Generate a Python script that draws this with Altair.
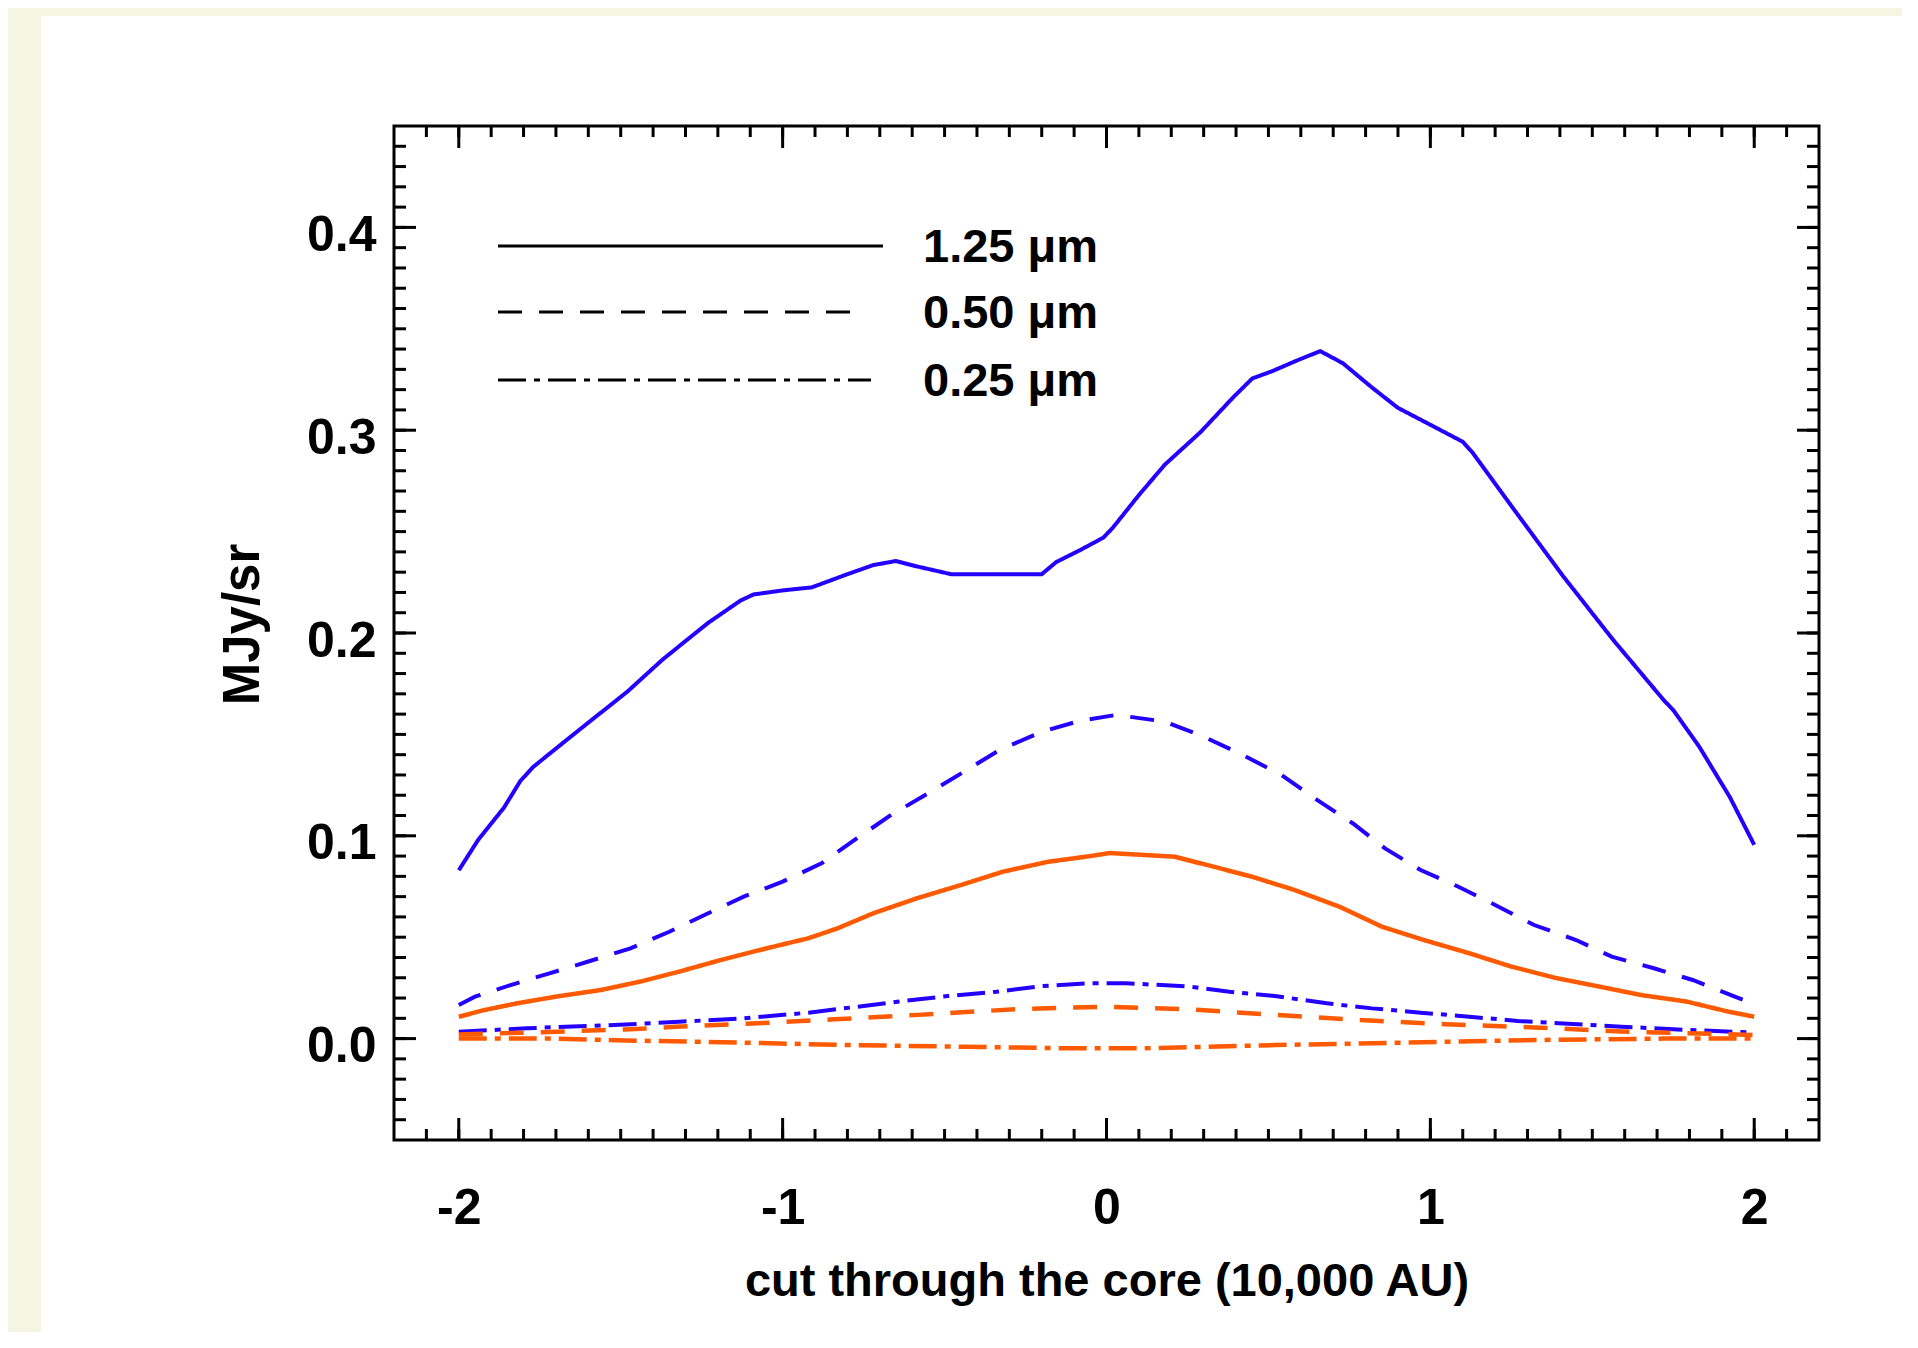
import altair as alt
import pandas as pd

# ---------------- data ----------------
blue_125_x = [-2.0, -1.94, -1.86, -1.81, -1.77, -1.63, -1.48, -1.37, -1.23, -1.13, -1.09, -1.0, -0.91,
              -0.80, -0.72, -0.65, -0.59, -0.48, -0.20, -0.155, -0.08, -0.01, 0.02, 0.10, 0.18, 0.29,
              0.39, 0.45, 0.51, 0.59, 0.66, 0.73, 0.82, 0.90, 0.99, 1.10, 1.13, 1.26, 1.41, 1.565,
              1.72, 1.75, 1.83, 1.925, 2.0]
blue_125_y = [0.083, 0.098, 0.114, 0.127, 0.134, 0.152, 0.171, 0.187, 0.205, 0.216, 0.219, 0.221, 0.2225,
              0.229, 0.2335, 0.2355, 0.233, 0.229, 0.229, 0.235, 0.241, 0.247, 0.252, 0.268, 0.283, 0.299,
              0.316, 0.3255, 0.329, 0.3345, 0.339, 0.333, 0.321, 0.311, 0.3035, 0.2943, 0.289, 0.2605,
              0.228, 0.1965, 0.167, 0.162, 0.144, 0.119, 0.0955]

blue_050_x = [-2.0, -1.95, -1.84, -1.72, -1.60, -1.47, -1.35, -1.23, -1.12, -1.0, -0.88, -0.77, -0.665,
              -0.55, -0.44, -0.33, -0.20, -0.08, 0.03, 0.18, 0.30, 0.42, 0.54, 0.65, 0.76, 0.86, 0.97,
              1.085, 1.20, 1.32, 1.45, 1.56, 1.69, 1.81, 1.94, 2.0]
blue_050_y = [0.0166, 0.0207, 0.0264, 0.0322, 0.038, 0.0445, 0.0527, 0.0618, 0.070, 0.0774, 0.0864, 0.0988,
              0.1103, 0.121, 0.1316, 0.1423, 0.1513, 0.1568, 0.1596, 0.1563, 0.1489, 0.1399, 0.130, 0.1177,
              0.1062, 0.0938, 0.0831, 0.075, 0.0659, 0.056, 0.0486, 0.0404, 0.0347, 0.0289, 0.0207, 0.017]

blue_025_x = [-2.0, -1.79, -1.52, -1.32, -1.12, -0.92, -0.77, -0.64, -0.49, -0.34, -0.20, -0.06, 0.06,
              0.25, 0.38, 0.52, 0.68, 0.82, 0.97, 1.12, 1.27, 1.41, 1.59, 1.79, 2.0]
blue_025_y = [0.0034, 0.0051, 0.0067, 0.0083, 0.010, 0.0128, 0.0157, 0.0183, 0.021, 0.0231, 0.0259, 0.0273,
              0.0273, 0.0257, 0.0231, 0.021, 0.0174, 0.0149, 0.0128, 0.0108, 0.0087, 0.0075, 0.0059,
              0.0043, 0.003]

orange_125_x = [-2.0, -1.92, -1.82, -1.70, -1.56, -1.44, -1.32, -1.19, -1.05, -0.92, -0.83, -0.72, -0.585,
                -0.45, -0.32, -0.18, -0.05, 0.01, 0.21, 0.33, 0.45, 0.58, 0.72, 0.85, 0.98, 1.12, 1.25,
                1.39, 1.52, 1.65, 1.79, 1.92, 2.0]
orange_125_y = [0.0108, 0.0141, 0.0174, 0.0207, 0.024, 0.0281, 0.033, 0.0388, 0.0445, 0.0495, 0.0544,
                0.0618, 0.0692, 0.0757, 0.0823, 0.0872, 0.090, 0.0915, 0.0897, 0.0848, 0.0798, 0.0733,
                0.065, 0.0552, 0.0486, 0.0421, 0.0355, 0.0298, 0.0257, 0.0215, 0.0183, 0.0133, 0.0108]

orange_050_x = [-2.0, -1.70, -1.47, -1.33, -1.06, -0.84, -0.58, -0.27, 0.0, 0.25, 0.52, 0.78, 1.05, 1.32,
                1.59, 2.0]
orange_050_y = [0.002, 0.0034, 0.0046, 0.0058, 0.0077, 0.0095, 0.0117, 0.0146, 0.0157, 0.0145, 0.0117,
                0.0092, 0.0071, 0.0055, 0.0035, 0.0018]

orange_025_x = [-2.0, -1.72, -1.455, -1.12, -0.79, -0.45, -0.12, 0.11, 0.52, 0.92, 1.32, 1.72, 2.0]
orange_025_y = [0.0, 0.0, -0.001, -0.002, -0.0032, -0.004, -0.0048, -0.0048, -0.0032, -0.002, -0.0007,
                0.0, 0.0]

wavelengths = ["1.25 \u03bcm", "0.50 \u03bcm", "0.25 \u03bcm"]
groups = ["blue", "orange"]

x_tick_labels = [-2, -1, 0, 1, 2]
y_tick_labels = [0.0, 0.1, 0.2, 0.3, 0.4]
x_minor = [round(-2.1 + 0.1 * i, 1) for i in range(43)]
y_minor = [round(-0.04 + 0.01 * i, 2) for i in range(49)]

x_title = "cut through the core (10,000 AU)"
y_title = "MJy/sr"

# ---------------- build table ----------------
series = [
    ("blue", wavelengths[0], blue_125_x, blue_125_y),
    ("blue", wavelengths[1], blue_050_x, blue_050_y),
    ("blue", wavelengths[2], blue_025_x, blue_025_y),
    ("orange", wavelengths[0], orange_125_x, orange_125_y),
    ("orange", wavelengths[1], orange_050_x, orange_050_y),
    ("orange", wavelengths[2], orange_025_x, orange_025_y),
]
rows = []
for k, (g, wl, xs, ys) in enumerate(series):
    for x, y in zip(xs, ys):
        rows.append({"series": f"{k}_{g}_{wl}", "group": g, "wl": wl, "x": x, "y": y})
df = pd.DataFrame(rows)

# ---------------- layout / style ----------------
W, H = 1425, 1014
PAD = {"left": 386, "top": 118, "right": 83, "bottom": 192}
FONT = "Liberation Sans, Arial, sans-serif"
BEIGE = "#f5f5e3"
BLUE = "#2400ff"
ORANGE = "#ff5a00"
DASHES = [[1, 0], [24, 17], [28, 8, 6, 8]]

xscale = alt.Scale(domain=[-2.2, 2.2], nice=False, zero=False)
yscale = alt.Scale(domain=[-0.05, 0.45], nice=False, zero=False)

X_AXIS = alt.Axis(values=x_tick_labels, ticks=False, domain=False, grid=False,
                  labelExpr="datum.value < 0 ? '-' + abs(datum.value) : '' + datum.value",
                  labelFont=FONT, labelFontSize=50, labelFontWeight="bold", labelColor="black",
                  labelPadding=43, titleFont=FONT, titleFontSize=47, titleFontWeight="bold",
                  titleColor="black", titleBaseline="alphabetic", titleY=155)
Y_AXIS = alt.Axis(values=y_tick_labels, format=".1f", ticks=False, domain=False, grid=False,
                  labelFont=FONT, labelFontSize=50, labelFontWeight="bold", labelColor="black",
                  labelPadding=18, labelOffset=8, titleFont=FONT, titleFontSize=51,
                  titleFontWeight="bold", titleColor="black", titleBaseline="alphabetic",
                  titleAngle=270, titleX=-136, titleY=498, titleAlign="center")


def X(field):
    return alt.X(field, scale=xscale, title=x_title, axis=X_AXIS)


def Y(field):
    return alt.Y(field, scale=yscale, title=y_title, axis=Y_AXIS)


one = pd.DataFrame({"d": [0]})

# beige page bands
band_left = alt.Chart(one).mark_rect(color=BEIGE).encode(
    x=alt.value(-PAD["left"]), x2=alt.value(41 - 8 - PAD["left"]),
    y=alt.value(-PAD["top"]), y2=alt.value(H + PAD["bottom"]))
band_top = alt.Chart(one).mark_rect(color=BEIGE).encode(
    x=alt.value(-PAD["left"]), x2=alt.value(W + PAD["right"]),
    y=alt.value(-PAD["top"]), y2=alt.value(16 - 8 - PAD["top"]))

lines = alt.Chart(df).mark_line(strokeCap="butt").encode(
    x=X("x:Q"),
    y=Y("y:Q"),
    color=alt.Color("group:N", scale=alt.Scale(domain=groups, range=[BLUE, ORANGE]), legend=None),
    strokeWidth=alt.StrokeWidth("group:N", scale=alt.Scale(domain=groups, range=[4, 4.5]), legend=None),
    strokeDash=alt.StrokeDash("wl:N", scale=alt.Scale(domain=wavelengths, range=DASHES), legend=None),
    detail="series:N",
)

# ticks (inward) on all four sides
xt_minor = pd.DataFrame({"x": x_minor})
xt_major = pd.DataFrame({"x": x_tick_labels})
yt_minor = pd.DataFrame({"y": y_minor})
yt_major = pd.DataFrame({"y": y_tick_labels})


def xticks(data, y0, y1):
    return alt.Chart(data).mark_rule(color="black", strokeWidth=3).encode(
        x=X("x:Q"), y=alt.value(y0), y2=alt.value(y1))


def yticks(data, x0, x1):
    return alt.Chart(data).mark_rule(color="black", strokeWidth=3).encode(
        y=Y("y:Q"), x=alt.value(x0), x2=alt.value(x1))


ticks = [
    xticks(xt_minor, H, H - 11), xticks(xt_major, H, H - 22),
    xticks(xt_minor, 0, 11), xticks(xt_major, 0, 22),
    yticks(yt_minor, 0, 12), yticks(yt_major, 0, 22),
    yticks(yt_minor, W, W - 12), yticks(yt_major, W, W - 22),
]

# manual legend (black sample lines + labels)
leg_y = [120, 186, 254]
leg_x_end = [489, 469, 477]
leg_text_y = [136, 202, 270]
legend = []
for i, wl in enumerate(wavelengths):
    legend.append(alt.Chart(one).mark_rule(color="black", strokeWidth=3, strokeDash=DASHES[i],
                                           strokeCap="butt").encode(
        x=alt.value(104), x2=alt.value(leg_x_end[i]), y=alt.value(leg_y[i])))
    legend.append(alt.Chart(one).mark_text(text=wl, font=FONT, fontSize=47, fontWeight="bold",
                                           color="black", align="left", baseline="alphabetic").encode(
        x=alt.value(529), y=alt.value(leg_text_y[i])))

chart = alt.layer(band_left, band_top, lines, *ticks, *legend).properties(
    width=W, height=H, padding=PAD, background="white",
    autosize=alt.AutoSizeParams(type="none"),
).configure_view(stroke="black", strokeWidth=3)

chart.save("out.html", embed_options={"renderer": "svg", "actions": False})
